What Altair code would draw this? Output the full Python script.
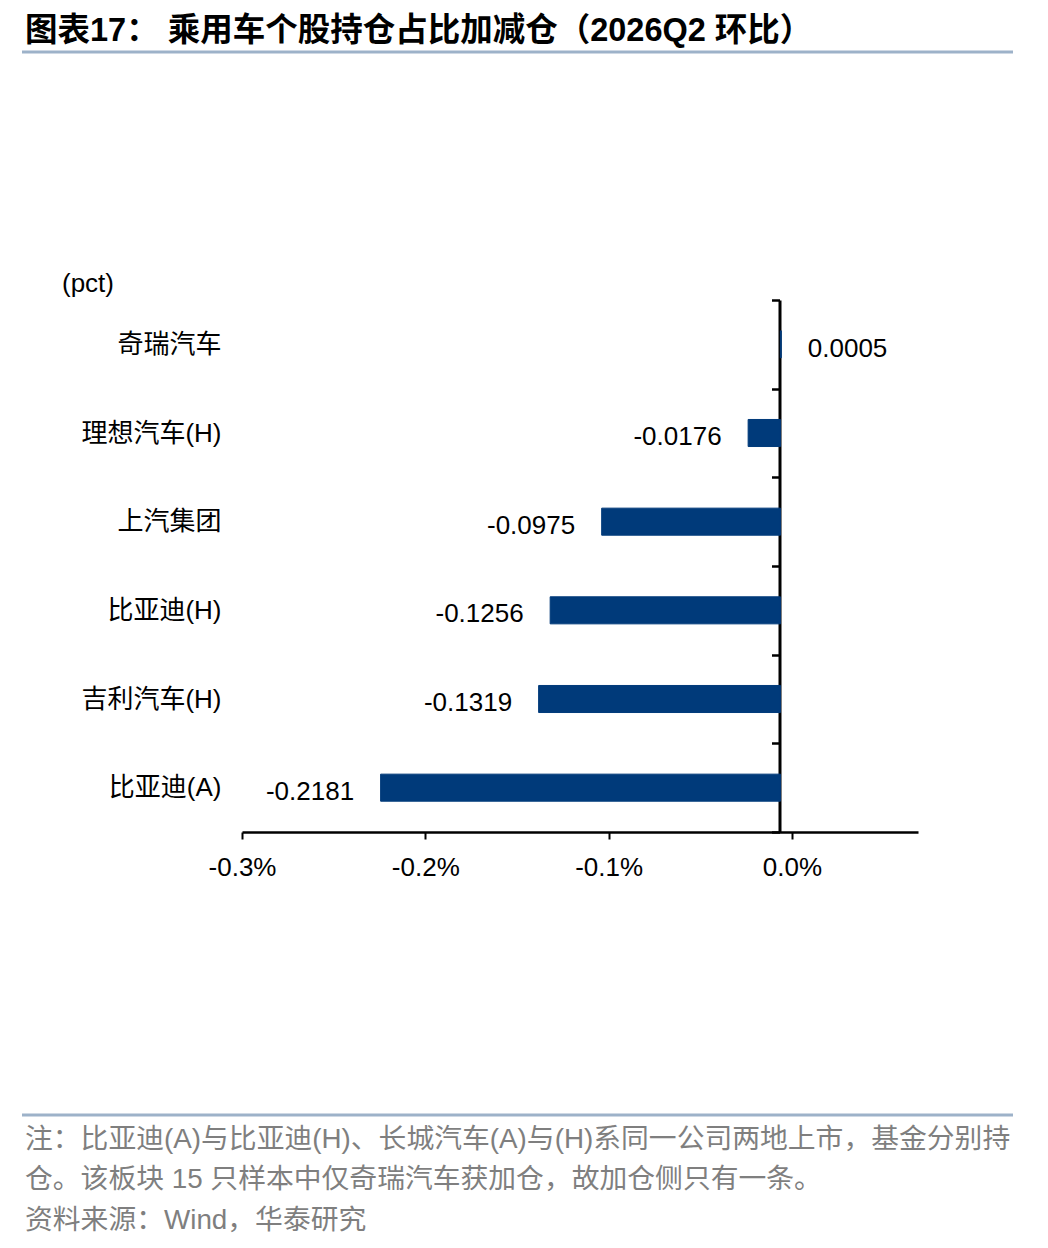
import altair as alt
import pandas as pd

# ---- data ----
stocks = ["奇瑞汽车", "理想汽车(H)", "上汽集团", "比亚迪(H)", "吉利汽车(H)", "比亚迪(A)"]
changes = [0.0005, -0.0176, -0.0975, -0.1256, -0.1319, -0.2181]
x_ticks = [-0.3, -0.2, -0.1, 0.0]

title_text = "图表17：  乘用车个股持仓占比加减仓（2026Q2 环比）"
unit_text = "(pct)"
note_lines = [
    "注：比亚迪(A)与比亚迪(H)、长城汽车(A)与(H)系同一公司两地上市，基金分别持",
    "仓。该板块 15 只样本中仅奇瑞汽车获加仓，故加仓侧只有一条。",
    "资料来源：Wind，华泰研究",
]

df = pd.DataFrame({"stock": stocks, "change": changes})
df["label"] = [f"{v:.4f}" for v in changes]

# ---- style ----
W, H = 676, 532
PAD_L, PAD_T = 234, 292
NAVY = "#003A7A"
RULE = "#9DB2C9"
GREY = "#7F7F7F"
SANS = "Liberation Sans, Noto Sans CJK SC, sans-serif"

x_scale = alt.Scale(domain=[-0.3, 0.0688], nice=False, zero=False)
y_scale = alt.Scale(domain=stocks, paddingInner=0, paddingOuter=0)

x_axis = alt.Axis(
    values=x_ticks,
    labelExpr="(datum.value < 0 ? '-' : '') + format(abs(datum.value), '.1f') + '%'",
    grid=False,
    domainColor="black", domainWidth=2.5,
    tickColor="black", tickWidth=2, tickSize=7,
    labelFont=SANS, labelFontSize=26, labelColor="black",
    labelPadding=15, labelFlush=False, labelOverlap=False,
)
y_axis = alt.Axis(
    orient="left", offset=-537.5,
    grid=False,
    domainColor="black", domainWidth=3,
    tickColor="black", tickWidth=2.5, tickSize=8, tickBand="extent",
    labelFont=SANS, labelFontSize=26, labelColor="black",
    labelPadding=550.5, labelAlign="right", labelBaseline="middle", labelLimit=400,
)

X = alt.X("change:Q", scale=x_scale, axis=x_axis, title=None)
Y = alt.Y("stock:N", sort=stocks, scale=y_scale, axis=y_axis, title=None)

bars = alt.Chart(df).mark_bar(
    color=NAVY, stroke=NAVY, strokeWidth=1,
    xOffset=-11.5, x2Offset=-11.5, height={"band": 0.305}
).encode(y=Y, x=X, x2=alt.datum(0))

neg_labels = alt.Chart(df).transform_filter("datum.change < 0").mark_text(
    align="right", baseline="middle", dx=-38, dy=4,
    font=SANS, fontSize=26, color="black"
).encode(y=Y, x=X, text="label:N")

pos_labels = alt.Chart(df).transform_filter("datum.change >= 0").mark_text(
    align="left", baseline="middle", dx=15, dy=5,
    font=SANS, fontSize=26, color="black"
).encode(y=Y, x=X, text="label:N")

def txt(s, x, y, size, color="black", weight="normal"):
    return alt.Chart(pd.DataFrame({"t": [s]})).mark_text(
        align="left", baseline="middle", font=SANS, fontSize=size,
        color=color, fontWeight=weight
    ).encode(x=alt.value(x), y=alt.value(y), text="t:N")

def hline(y):
    return alt.Chart(pd.DataFrame({"t": [0]})).mark_rule(
        color=RULE, strokeWidth=3
    ).encode(x=alt.value(22 - PAD_L - 8), x2=alt.value(1013 - PAD_L - 8), y=alt.value(y))

title = txt(title_text, 25 - PAD_L - 8, 31 - PAD_T - 8, 32.5, weight="bold")
unit = txt(unit_text, 62 - PAD_L - 8, 284 - PAD_T - 8, 26)
notes = [txt(s, 25 - PAD_L - 8, yy - PAD_T - 8, 27.8, color=GREY)
         for s, yy in zip(note_lines, [1140, 1180, 1221])]

chart = alt.layer(
    bars, neg_labels, pos_labels, title, unit,
    hline(52 - PAD_T - 8), hline(1115 - PAD_T - 8), *notes
).properties(
    width=W, height=H,
    padding={"left": PAD_L, "top": PAD_T, "right": 120, "bottom": 404},
    autosize=alt.AutoSizeParams(type="none"),
).configure_view(strokeWidth=0)

chart.save("out.html", embed_options={"renderer": "svg", "actions": False})
